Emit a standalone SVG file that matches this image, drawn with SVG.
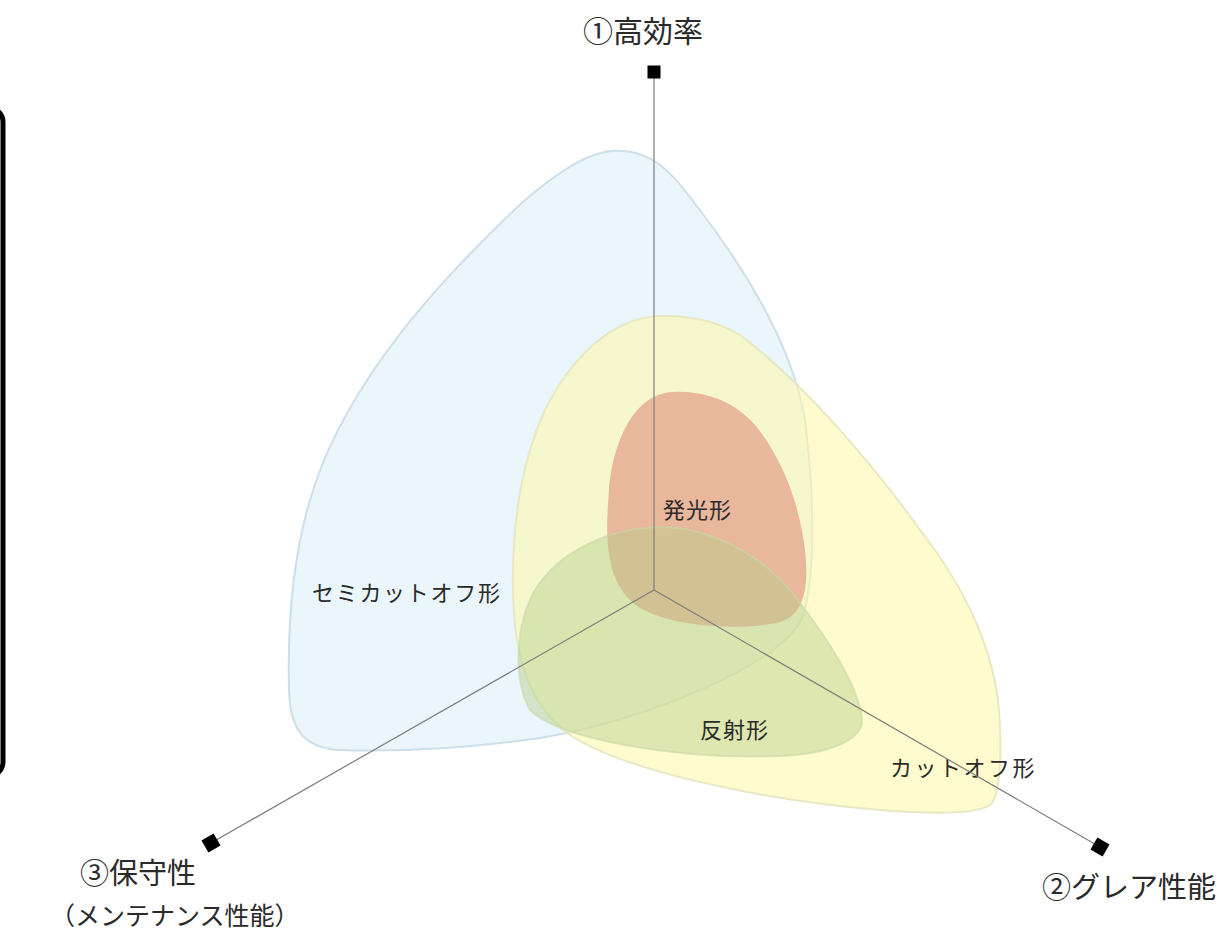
<svg xmlns="http://www.w3.org/2000/svg" width="1223" height="935" viewBox="0 0 1223 935">
  <style>
    .t { font-family: "Noto Sans CJK JP", "Noto Sans", sans-serif; fill: #2a2a2a; }
    .axis-label { font-size: 29px; }
    .blob-label { font-size: 22px; }
    .axis { stroke: #7d7d7d; stroke-width: 1.2; fill: none; }
    .marker { fill: #000; }
    .blob { stroke-width: 2; }
  </style>
  <rect x="0" y="0" width="1223" height="935" fill="#ffffff"/>
  <rect id="frame" x="-30" y="108" width="33" height="668" rx="14" fill="none" stroke="#000" stroke-width="5"/>

  <g id="semicutoff">
    <path class="blob" d="M 612,151 C 642,149 662,162 682,187 C 722,237 790,330 805,420 C 815,500 815,580 803,615 C 790,660 650,720 540,738 C 470,748 400,752 340,750 C 300,748 290,725 289,690 C 287,610 296,530 322,465 C 365,360 450,270 525,200 C 555,175 585,153 612,151 Z" fill="#d8ecf9" fill-opacity="0.55" stroke="#cddfea"/>
    <text class="t blob-label" x="312" y="601" letter-spacing="1.7">セミカットオフ形</text>
  </g>

  <g id="cutoff">
    <path class="blob" d="M 660,316 C 610,318 570,360 545,410 C 520,465 512,530 513,590 C 514,650 525,700 567,733 C 620,770 760,800 880,810 C 930,814 975,815 990,805 C 1002,795 1002,740 998,700 C 990,640 960,580 920,530 C 870,460 800,380 740,335 C 715,320 690,315 660,316 Z" fill="#fff8a6" fill-opacity="0.55" stroke="#e8e8c4"/>
    <text class="t blob-label" x="890" y="776" letter-spacing="2.5">カットオフ形</text>
  </g>

  <g id="hakko">
    <path class="blob" d="M 672,392 C 635,394 613,440 609,490 C 605,540 605,585 640,608 C 670,626 740,632 780,622 C 805,615 809,585 805,550 C 799,500 780,455 755,425 C 735,402 705,390 672,392 Z" fill="#e08c7c" fill-opacity="0.6" stroke="none"/>
    <text class="t blob-label" x="663" y="518" letter-spacing="1">発光形</text>
  </g>

  <g id="hansha">
    <path class="blob" d="M 660,527 C 610,528 560,550 535,590 C 515,625 513,680 530,710 C 560,740 680,760 780,756 C 830,754 862,740 862,720 C 860,690 830,640 790,590 C 760,555 710,527 660,527 Z" fill="#b6cf8a" fill-opacity="0.45" stroke="#c8d8a8" stroke-opacity="0.6"/>
    <text class="t blob-label" x="700" y="738" letter-spacing="1">反射形</text>
  </g>

  <g id="connectors">
    <line class="axis" x1="654" y1="590" x2="654" y2="72"/>
    <line class="axis" x1="654" y1="590" x2="211" y2="843"/>
    <line class="axis" x1="654" y1="590" x2="1100" y2="847"/>
  </g>

  <g id="axis-efficiency">
    <rect class="marker" x="647.5" y="65.5" width="13" height="13"/>
    <text class="t" x="643" y="42" font-size="30" text-anchor="middle">①高効率</text>
  </g>

  <g id="axis-maintenance">
    <rect class="marker" x="-7" y="-7" width="14" height="14" transform="translate(211,843) rotate(-30)"/>
    <text class="t axis-label" x="80" y="884">③保守性</text>
    <text class="t" x="50" y="925" font-size="25">（メンテナンス性能）</text>
  </g>

  <g id="axis-glare">
    <rect class="marker" x="-7" y="-7" width="14" height="14" transform="translate(1100,847) rotate(30)"/>
    <text class="t axis-label" x="1042" y="898">②グレア性能</text>
  </g>
</svg>
